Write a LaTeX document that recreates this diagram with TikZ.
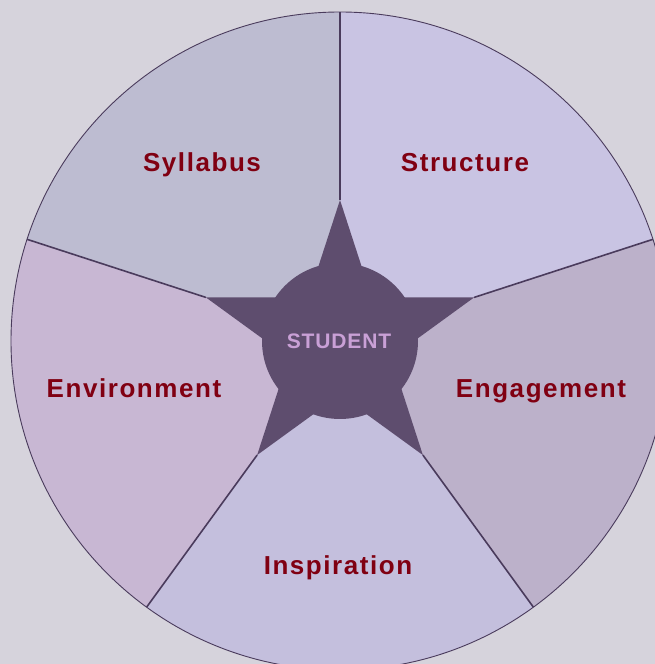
\documentclass[tikz,border=0pt]{standalone}
\usepackage{fontspec}
\setmainfont{Liberation Sans}
\newfontfamily\labfont{Liberation Sans}[LetterSpace=6]
\newfontfamily\studfont{Liberation Sans}[LetterSpace=4]
\usetikzlibrary{calc}
\definecolor{bgc}{HTML}{D6D3DC}
\definecolor{edge}{HTML}{4A3B5C}
\definecolor{starc}{HTML}{5E4D6E}
\definecolor{studc}{HTML}{C9A0D6}
\definecolor{labc}{HTML}{800012}
\definecolor{cSyl}{HTML}{BDBCD1}
\definecolor{cStr}{HTML}{C9C4E3}
\definecolor{cEng}{HTML}{BCB1CA}
\definecolor{cIns}{HTML}{C4BFDD}
\definecolor{cEnv}{HTML}{C8B7D3}
\tikzset{
  seglabel/.style={font=\labfont\fontsize{26}{30}\selectfont\bfseries, text=labc, inner sep=0pt},
  divider/.style={draw=edge, line width=1.6pt},
  rim/.style={draw=edge, line width=0.9pt},
}
\begin{document}
\begin{tikzpicture}[x=1pt,y=1pt]
  \fill[bgc] (0,0) rectangle (655,664);
  \useasboundingbox (0,0) rectangle (655,664);
  \clip (0,0) rectangle (655,664);
  \coordinate (C) at (340,323);
  \def\R{329}
  % sector wedges
  \foreach \a/\b/\c in {18/90/cStr, 90/162/cSyl, 162/234/cEnv, 234/306/cIns, 306/378/cEng}{
    \fill[\c] (C) -- ++(\a:\R) arc[start angle=\a, end angle=\b, radius=\R] -- cycle;
  }
  \draw[rim] (C) circle[radius=\R];
  % dividers from star tips to the rim
  \foreach \a/\n in {18/t1, 90/t2, 162/t3, 234/t4, 306/t5}{
    \coordinate (\n) at ($(C)+(\a:141)$);
    \coordinate (\n r) at ($(C)+(\a:\R)$);
    \draw[divider] (\n) -- (\n r);
  }
  % central star and disc
  \fill[starc] ($(C)+(90:141)$)
    \foreach \k in {1,...,9}{ -- ($(C)+(90+36*\k:{ifthenelse(isodd(\k),53.9,141)})$) } -- cycle;
  \fill[starc] (C) circle[radius=78];
  \node[font=\studfont\fontsize{21}{24}\selectfont\bfseries, text=studc, inner sep=0pt] (student) at (339,323) {STUDENT};
  \node[seglabel] (syl) at (202,499) {Syllabus};
  \node[seglabel] (str) at (465,501) {Structure};
  \node[seglabel] (env) at (134,276) {Environment};
  \node[seglabel] (eng) at (541,273) {Engagement};
  \node[seglabel] (ins) at (338,96) {Inspiration};
\end{tikzpicture}
\end{document}
